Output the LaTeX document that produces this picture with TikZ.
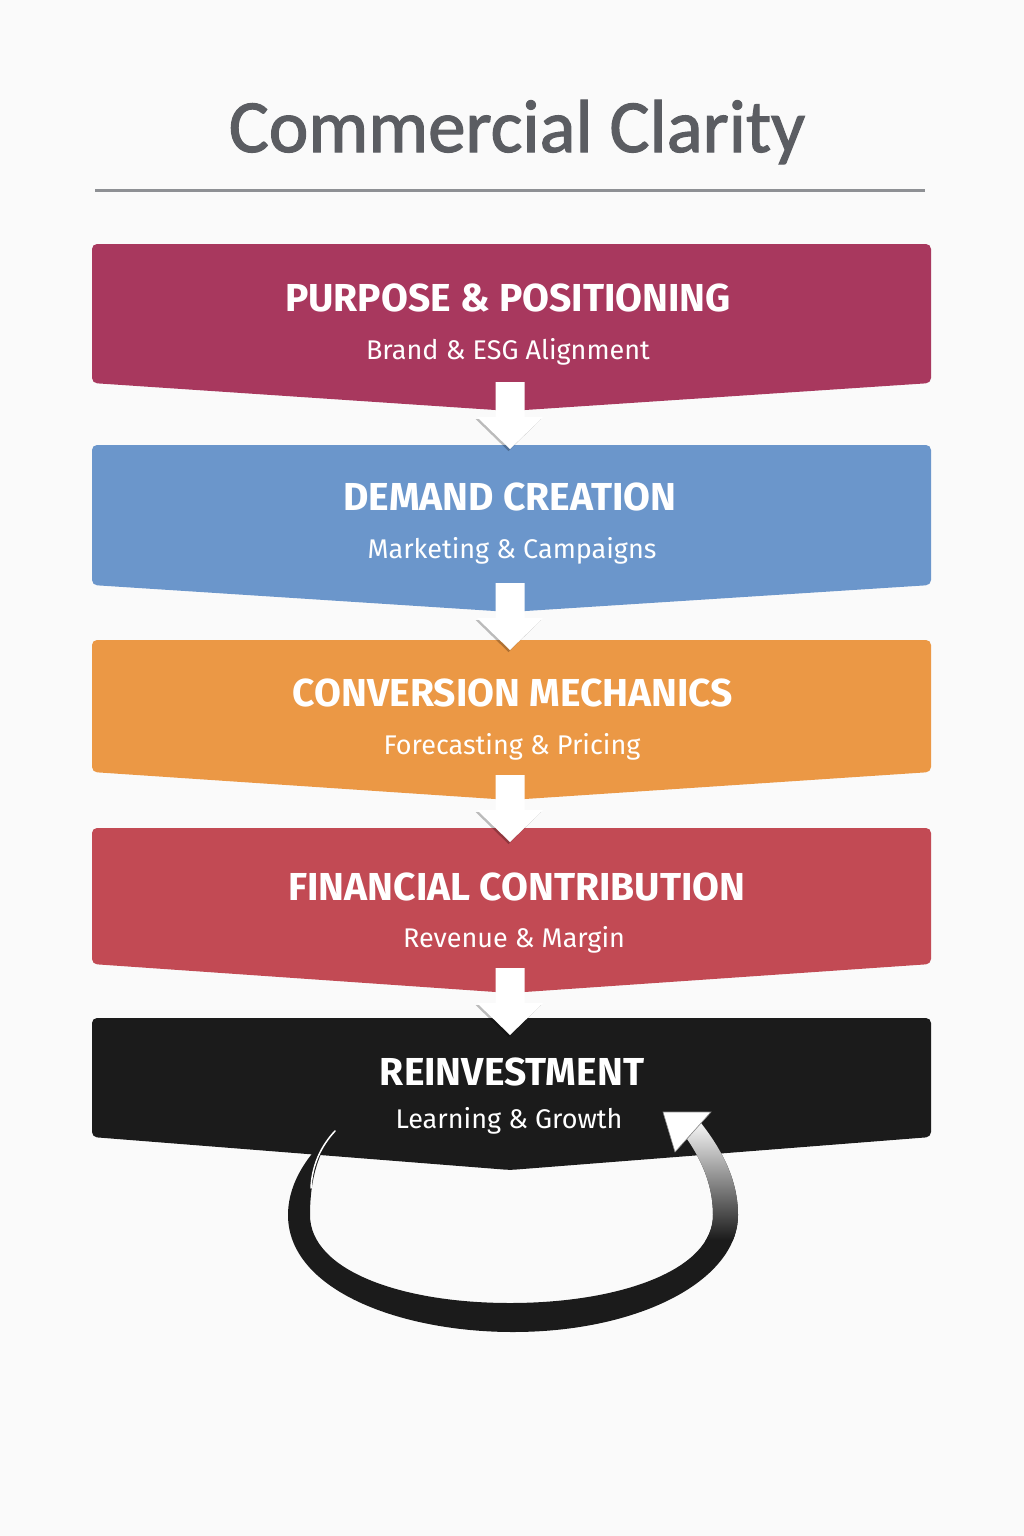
\documentclass[tikz,border=0pt]{standalone}
\usepackage{fontspec}
\setmainfont{Fira Sans}
\newfontfamily\headfont[FakeBold=1.6]{Carlito}
\usepackage{xcolor}
\usepackage{tikz}

\definecolor{purposecol}{HTML}{A8385E}
\definecolor{demandcol}{HTML}{6B96CB}
\definecolor{conversioncol}{HTML}{EB9845}
\definecolor{financecol}{HTML}{C24A54}
\definecolor{reinvestcol}{HTML}{1B1B1B}
\definecolor{titlegray}{HTML}{5B5D62}
\definecolor{rulegray}{HTML}{8E9094}
\definecolor{paper}{HTML}{FAFAFA}

\tikzset{
  flowbox/.style={rounded corners=5pt},
  boxtitle/.style={text=white, anchor=base, font=\bfseries\fontsize{39}{44}\selectfont},
  boxsub/.style={text=white, anchor=base, font=\fontsize{27}{31}\selectfont},
}

% white block arrow, #1 = top of the shaft
\newcommand{\flowarrow}[1]{
  \fill[black, opacity=0.25] (493.5,#1+37) -- (475.5,#1+37) -- (508.5,#1+69) -- (541,#1+37) -- cycle;
  \fill[white] (495.5,#1) -- (524.5,#1) -- (524.5,#1+35) -- (543,#1+35) -- (510,#1+67)
    -- (477,#1+35) -- (495.5,#1+35) -- cycle;
}

\newcommand{\looppath}{(337,1128) .. controls (300,1160) and (288,1190) .. (288,1215)
    .. controls (288,1290) and (400,1332) .. (513,1332)
    .. controls (640,1332) and (738,1280) .. (738,1215)
    .. controls (738,1180) and (722,1150) .. (701,1123) -- (687,1139)
    .. controls (705,1165) and (713,1190) .. (713,1215)
    .. controls (713,1270) and (620,1303) .. (510,1303)
    .. controls (400,1303) and (310,1270) .. (310,1215)
    .. controls (310,1180) and (318,1150) .. (337,1128) -- cycle}

\begin{document}
\begin{tikzpicture}[x=1pt, y=-1pt]
    \fill[paper] (0,0) rectangle (1024,1536);
    \useasboundingbox (0,0) rectangle (1024,1536);

    % heading
    \node[text=titlegray, anchor=base, font=\headfont\fontsize{75}{84}\selectfont] (heading) at (517,152) {Commercial Clarity};
    \draw[rulegray, line width=3pt] (95,190) -- (925,190);

    % the five stages
    \fill[purposecol, flowbox] (92,244) -- (931,244) -- (931,383) -- (510,411) -- (92,383) -- cycle;
    \node[boxtitle] (purpose) at (508,311) {PURPOSE \& POSITIONING};
    \node[boxsub] (purposesub) at (508,359) {Brand \& ESG Alignment};

    \fill[demandcol, flowbox] (92,445) -- (931,445) -- (931,585) -- (510,612) -- (92,585) -- cycle;
    \node[boxtitle] (demand) at (510,510) {DEMAND CREATION};
    \node[boxsub] (demandsub) at (512,558) {Marketing \& Campaigns};

    \fill[conversioncol, flowbox] (92,640) -- (931,640) -- (931,772) -- (510,800) -- (92,772) -- cycle;
    \node[boxtitle] (conversion) at (513,706) {CONVERSION MECHANICS};
    \node[boxsub] (conversionsub) at (512,754) {Forecasting \& Pricing};

    \fill[financecol, flowbox] (92,828) -- (931,828) -- (931,964) -- (510,993) -- (92,964) -- cycle;
    \node[boxtitle] (finance) at (517,900) {FINANCIAL CONTRIBUTION};
    \node[boxsub] (financesub) at (514,947) {Revenue \& Margin};

    \fill[reinvestcol, flowbox] (92,1018) -- (931,1018) -- (931,1137) -- (510,1170) -- (92,1137) -- cycle;
    \node[boxtitle] (reinvest) at (512,1085) {REINVESTMENT};
    \node[boxsub] (reinvestsub) at (509,1128) {Learning \& Growth};

    % arrows between stages
    \flowarrow{382}
    \flowarrow{583}
    \flowarrow{775}
    \flowarrow{968}

    % feedback loop
    \fill[reinvestcol] \looppath;
    \begin{scope}
        \clip \looppath;
        \shade[top color=white, bottom color=reinvestcol] (640,1118) rectangle (750,1240);
    \end{scope}
    \draw[white, line width=1.5pt, line cap=round] (335,1131) .. controls (321,1146) and (312,1165) .. (311,1188);
    \fill[white, draw=black!45, line width=0.6pt] (663,1112) -- (711,1112) -- (675,1152) -- cycle;
\end{tikzpicture}
\end{document}
